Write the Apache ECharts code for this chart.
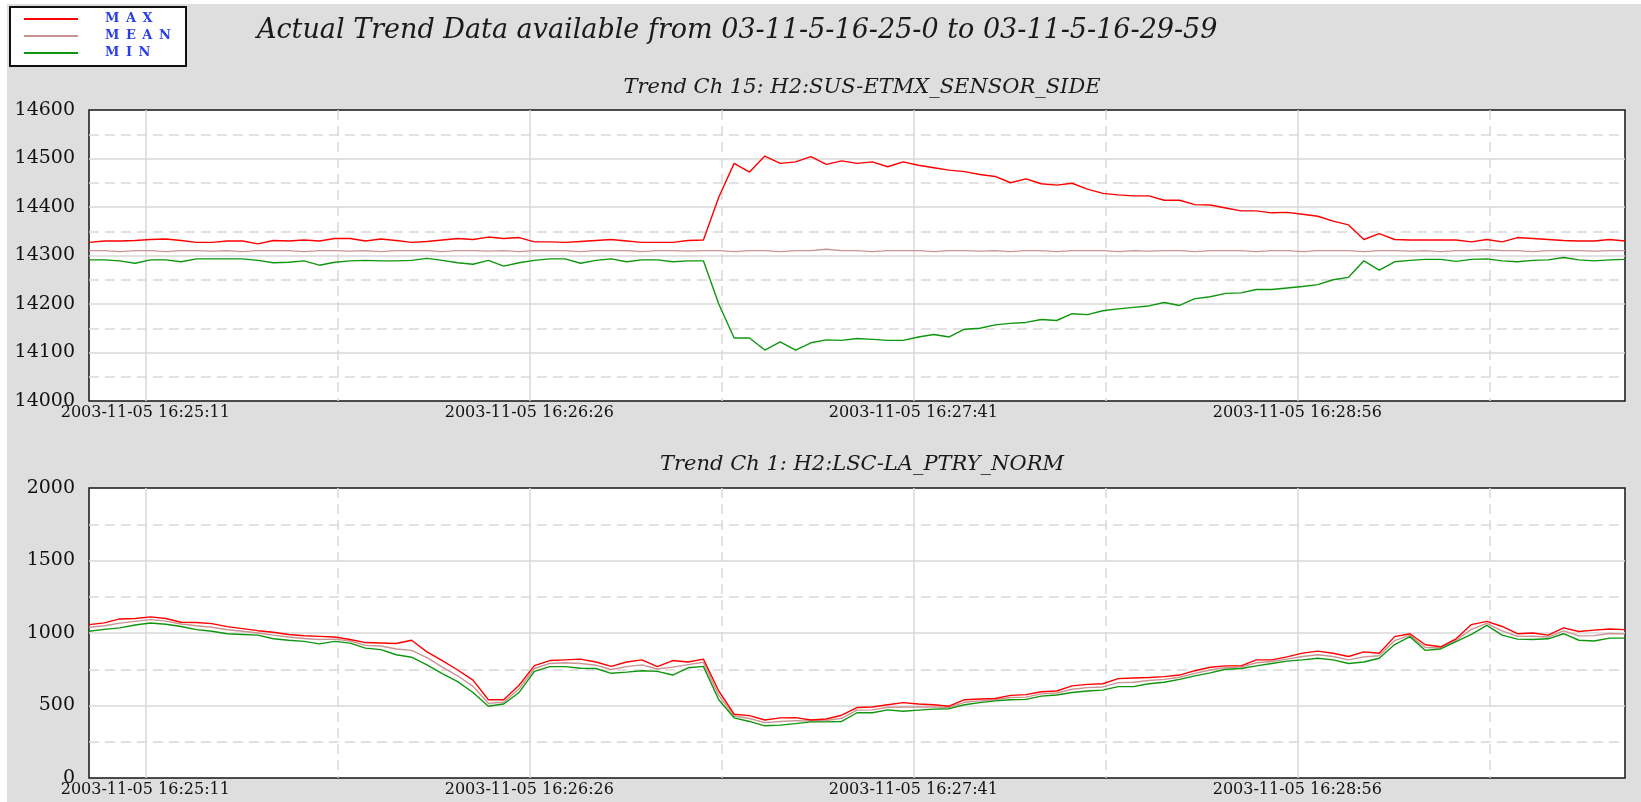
<!DOCTYPE html>
<html><head><meta charset="utf-8">
<script src="https://cdn.jsdelivr.net/npm/echarts@6/dist/echarts.min.js"></script>
<style>
html,body{margin:0;padding:0;background:#fff;width:1641px;height:802px;overflow:hidden;}
#panel{position:absolute;left:7px;top:4px;width:1634px;height:798px;background:#dedede;}
#chart{position:absolute;left:0;top:0;width:1641px;height:802px;}
</style></head><body>
<div id="panel"></div><div id="chart"></div>
<script>
// ---- data ----
const mainTitle = 'Actual Trend Data available from 03-11-5-16-25-0 to 03-11-5-16-29-59';
const topTitle = 'Trend Ch 15: H2:SUS-ETMX_SENSOR_SIDE';
const botTitle = 'Trend Ch 1: H2:LSC-LA_PTRY_NORM';
const seriesNames = ['MAX', 'MEAN', 'MIN'];
const tickSecs = [11, 86, 161, 236];
const halfTickSecs = [48.5, 123.5, 198.5, 273.5];
const tickLabels = ['2003-11-05 16:25:11', '2003-11-05 16:26:26', '2003-11-05 16:27:41', '2003-11-05 16:28:56'];
// seconds after 16:25:00
const secs = [0,3,6,9,12,15,18,21,24,27,30,33,36,39,42,45,48,51,54,57,60,63,66,69,72,75,78,81,84,87,90,93,96,99,102,105,108,111,114,117,120,123,126,129,132,135,138,141,144,147,150,153,156,159,162,165,168,171,174,177,180,183,186,189,192,195,198,201,204,207,210,213,216,219,222,225,228,231,234,237,240,243,246,249,252,255,258,261,264,267,270,273,276,279,282,285,288,291,294,297,300];

const topMax = [14327,14330,14330,14331,14333,14334,14331,14327,14327,14330,14330,14324,14331,14330,14332,14330,14335,14335,14330,14334,14331,14327,14329,14332,14335,14333,14338,14335,14337,14328,14328,14327,14329,14331,14333,14330,14327,14327,14327,14331,14332,
14420,14490,14472,14505,14490,14493,14504,14488,14495,14490,
14493,14483,14493,14486,14481,14476,14473,14467,14463,14450,14458,14448,14445,14449,14437,14428,14425,14423,14423,14414,14414,14405,14404,14398,14392,14392,14388,14389,14385,14381,14371,14363,14333,14345,14333,14332,14332,14332,14332,14328,14333,14328,14337,14335,14333,14331,14330,14330,14333,14330];
const topMean = [14310,14310,14308,14310,14310,14308,14310,14310,14309,14310,14308,14310,14310,14310,14308,14310,14310,14309,14310,14308,14310,14310,14310,14308,14310,14310,14309,14310,14308,14310,14310,14310,14308,14310,14310,14310,14308,14310,14310,14309,14310,14310,14308,14310,14310,14308,14310,14310,14313,14310,14310,14308,14310,14310,14310,14308,14310,14310,14309,14310,14308,14310,14310,14308,14310,14310,14310,14308,14310,14309,14310,14310,14308,14310,14310,14310,14308,14310,14310,14308,14310,14310,14310,14308,14310,14310,14309,14310,14308,14310,14310,14312,14310,14310,14308,14310,14310,14310,14309,14310,14310];
const topMin = [14291,14291,14289,14284,14291,14291,14287,14293,14293,14293,14293,14290,14285,14286,14289,14280,14286,14289,14290,14289,14289,14290,14294,14290,14285,14282,14290,14278,14285,14290,14293,14293,14284,14290,14293,14287,14291,14291,14287,14289,14289,
14200,14130,14130,14105,14122,14105,14120,14126,14125,14129,
14127,14125,14125,14132,14137,14132,14148,14150,14157,14160,14162,14168,14166,14180,14178,14186,14190,14193,14196,14203,14197,14211,14215,14222,14223,14230,14230,14233,14236,14240,14250,14255,14289,14270,14287,14290,14292,14292,14288,14292,14293,14289,14287,14290,14291,14296,14291,14289,14291,14292];

const botMax = [1058,1070,1097,1100,1111,1100,1074,1072,1065,1044,1030,1016,1005,990,981,977,972,955,934,931,928,950,870,810,745,675,540,540,640,775,810,815,820,800,770,800,815,768,810,800,820,600,440,430,400,415,416,400,407,433,486,
490,505,520,510,505,495,540,545,548,570,575,595,600,635,646,650,685,690,693,699,710,740,764,773,773,815,815,835,861,875,860,838,870,860,975,995,919,905,960,1058,1080,1045,995,1000,985,1035,1010,1020,1028,1023];
const botMean = [1040,1050,1068,1080,1092,1082,1062,1050,1040,1022,1012,1000,985,972,962,955,958,945,915,910,890,880,830,765,705,632,515,522,615,755,790,795,790,778,748,768,780,752,765,782,798,570,428,410,382,390,396,393,397,412,468,470,488,490,490,490,487,522,532,540,555,558,580,586,612,623,628,658,660,672,680,695,722,745,762,765,795,803,820,838,850,838,815,835,843,948,985,900,897,950,1025,1066,1015,977,978,972,1015,980,982,997,994];
const botMin = [1012,1025,1035,1055,1069,1060,1045,1023,1012,995,990,985,960,950,942,925,942,930,896,885,850,833,780,720,665,590,495,510,590,735,768,768,757,755,722,730,740,735,710,760,770,540,415,390,360,365,375,387,387,390,450,
450,470,460,468,475,478,505,520,532,540,542,565,572,590,600,606,630,630,650,660,680,704,725,750,755,773,790,806,815,826,815,790,800,826,920,975,880,890,940,990,1053,985,958,955,960,995,950,945,965,965];

// ---- styling ----
const SERIF = '"DejaVu Serif", "Liberation Serif", serif';
const GRID_C = '#d9d9d9';
const COLORS = {MAX: '#ff0000', MEAN: '#c99494', MIN: '#0f960f'};

function pairs(vals) { return secs.map((s, i) => [s, vals[i]]); }

function xAxesFor(gridIndex) {
  return [
    { type: 'value', gridIndex, min: 0, max: 300,
      axisLine: {show: false}, axisTick: {show: false, customValues: tickSecs},
      axisLabel: {customValues: tickSecs, formatter: v => tickLabels[tickSecs.indexOf(v)] || '',
                  fontFamily: SERIF, fontSize: 16, color: '#111', margin: 4},
      splitLine: {show: true, lineStyle: {color: GRID_C, width: 1.5}} },
    { type: 'value', gridIndex, min: 0, max: 300, position: 'top',
      axisLine: {show: false}, axisTick: {show: false, customValues: halfTickSecs},
      axisLabel: {show: false, customValues: halfTickSecs},
      splitLine: {show: true, lineStyle: {color: GRID_C, width: 1.5, type: [10, 6]}} }
  ];
}
function yAxisFor(gridIndex, min, max, interval) {
  return { type: 'value', gridIndex, min, max, interval,
    axisLine: {show: false}, axisTick: {show: false},
    axisLabel: {fontFamily: SERIF, fontSize: 19, color: '#111', margin: 14, formatter: v => String(v)},
    splitLine: {show: true, showMinLine: false, showMaxLine: false, lineStyle: {color: GRID_C, width: 1.5}},
    minorTick: {show: false, splitNumber: 2},
    minorSplitLine: {show: true, lineStyle: {color: GRID_C, width: 1.5, type: [10, 6]}} };
}
function line(name, vals, xi, yi) {
  return { type: 'line', name, data: pairs(vals), xAxisIndex: xi, yAxisIndex: yi,
    showSymbol: false, color: COLORS[name], lineStyle: {width: 1.4, color: COLORS[name]},
    z: name === 'MAX' ? 5 : (name === 'MIN' ? 4 : 3) };
}

const chart = echarts.init(document.getElementById('chart'), null, {renderer: 'canvas'});
chart.setOption({
  animation: false,
  backgroundColor: 'transparent',
  title: [
    {text: mainTitle, left: 252, top: 12, textStyle: {fontFamily: SERIF, fontStyle: 'italic', fontWeight: 'normal', fontSize: 27, color: '#1a1a1a'}},
    {text: topTitle, left: 857, textAlign: 'center', top: 72, textStyle: {fontFamily: SERIF, fontStyle: 'italic', fontWeight: 'normal', fontSize: 21, color: '#1a1a1a'}},
    {text: botTitle, left: 857, textAlign: 'center', top: 449, textStyle: {fontFamily: SERIF, fontStyle: 'italic', fontWeight: 'normal', fontSize: 21, color: '#1a1a1a'}}
  ],
  graphic: [
    {type: 'rect', shape: {x: 10, y: 7, width: 176, height: 59}, style: {fill: '#fff', stroke: '#111', lineWidth: 2}, z: 0}
  ],
  legend: {
    data: seriesNames, orient: 'vertical', left: 19, top: 7, padding: 5,
    itemWidth: 54, itemHeight: 2, icon: 'rect', itemGap: 3, selectedMode: false,
    formatter: n => n.split('').join('\u2002'),
    textStyle: {color: '#2b3fe6', fontFamily: SERIF, fontWeight: 'bold', fontSize: 13, lineHeight: 14, padding: [0, 0, 0, 22]}
  },
  grid: [
    {left: 89, right: 16, top: 110, height: 291, show: true, backgroundColor: '#fff', borderColor: '#151515', borderWidth: 1.5},
    {left: 89, right: 16, top: 488, height: 290, show: true, backgroundColor: '#fff', borderColor: '#151515', borderWidth: 1.5}
  ],
  xAxis: [...xAxesFor(0), ...xAxesFor(1)],
  yAxis: [yAxisFor(0, 14000, 14600, 100), yAxisFor(1, 0, 2000, 500)],
  series: [
    line('MEAN', topMean, 0, 0), line('MIN', topMin, 0, 0), line('MAX', topMax, 0, 0),
    line('MEAN', botMean, 2, 1), line('MIN', botMin, 2, 1), line('MAX', botMax, 2, 1)
  ]
});
</script>
</body></html>
